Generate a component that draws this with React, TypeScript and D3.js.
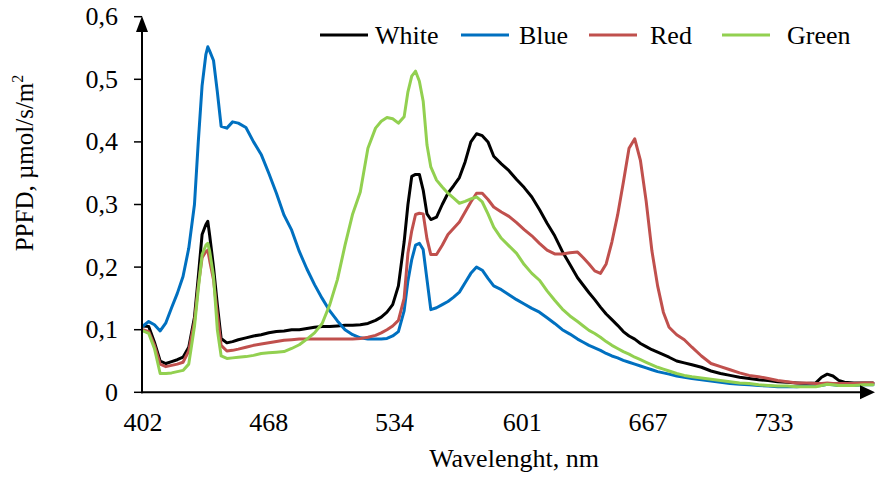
import React from 'react';
import * as d3 from 'd3';

const wavelengths = [
  402, 405, 408, 411, 414, 417, 420, 423, 426, 429,
  431, 433, 435, 436, 437, 439, 441, 443,
  446, 449, 452, 456, 460, 464, 468, 472, 476, 480,
  484, 488, 492, 496, 500, 504, 508, 512, 516, 520,
  524, 527, 530, 533, 536, 539, 541, 543, 545, 547,
  549, 551, 553, 556, 559, 562, 565, 568, 571, 574,
  577, 580, 583, 586, 590, 594, 598, 602, 606, 610,
  614, 618, 622, 626, 630, 633, 636, 639, 642, 645,
  648, 651, 654, 657, 660, 663, 666, 669, 672, 675,
  678, 682, 686, 690, 695, 700, 705, 710, 715, 720,
  725, 730, 735, 740, 745, 750, 755, 758, 761, 764,
  767, 770, 775, 780, 785,
];

const white = [
  0.106, 0.105, 0.08, 0.05, 0.046, 0.049, 0.052, 0.056, 0.072, 0.12,
  0.184, 0.252, 0.268, 0.273, 0.25, 0.2, 0.14, 0.086,
  0.079, 0.081, 0.084, 0.087, 0.09, 0.092, 0.095, 0.097, 0.098, 0.1,
  0.1, 0.102, 0.104, 0.105, 0.105, 0.106, 0.107, 0.107, 0.108, 0.11,
  0.115, 0.12, 0.128, 0.14, 0.17, 0.24, 0.3, 0.345, 0.348, 0.348,
  0.323, 0.285, 0.276, 0.28, 0.3, 0.318, 0.33, 0.343, 0.368, 0.4,
  0.413, 0.41, 0.4, 0.377, 0.365, 0.354, 0.34, 0.327, 0.312, 0.292,
  0.27, 0.25, 0.225, 0.204, 0.183, 0.171, 0.159, 0.148, 0.136, 0.125,
  0.116, 0.107, 0.097, 0.09, 0.085, 0.078, 0.073, 0.068, 0.064, 0.06,
  0.056, 0.05, 0.047, 0.044, 0.04, 0.034, 0.03, 0.027, 0.024, 0.022,
  0.02, 0.019, 0.017, 0.016, 0.015, 0.014, 0.015, 0.024, 0.029, 0.026,
  0.019, 0.016, 0.015, 0.015, 0.015,
];

const blue = [
  0.106, 0.113, 0.108, 0.098, 0.111, 0.135, 0.158, 0.185, 0.23, 0.3,
  0.4, 0.49, 0.54, 0.552, 0.545, 0.53, 0.48, 0.425,
  0.422, 0.432, 0.43, 0.423, 0.4, 0.38, 0.35, 0.318, 0.283, 0.259,
  0.225, 0.197, 0.172, 0.15, 0.13, 0.114, 0.1, 0.092, 0.087, 0.085,
  0.085, 0.085, 0.086, 0.09, 0.097, 0.13, 0.178, 0.212, 0.235, 0.238,
  0.228, 0.18, 0.132, 0.135, 0.14, 0.145, 0.152, 0.16, 0.175, 0.19,
  0.2, 0.195, 0.182, 0.17, 0.164, 0.156, 0.148, 0.141, 0.134, 0.128,
  0.119, 0.11, 0.1, 0.093, 0.085, 0.08, 0.075, 0.071, 0.067, 0.062,
  0.058, 0.055, 0.051, 0.048, 0.045, 0.042, 0.039, 0.036, 0.033, 0.031,
  0.029, 0.026, 0.024, 0.022, 0.02, 0.018, 0.016, 0.014, 0.013, 0.012,
  0.011, 0.01, 0.009, 0.009, 0.009, 0.01, 0.01, 0.011, 0.013, 0.012,
  0.011, 0.011, 0.011, 0.012, 0.012,
];

const red = [
  0.1, 0.097, 0.075, 0.045, 0.041, 0.043, 0.045, 0.048, 0.066, 0.113,
  0.17, 0.215, 0.225, 0.227, 0.21, 0.18, 0.125, 0.075,
  0.066, 0.067, 0.069, 0.072, 0.075, 0.077, 0.079, 0.081, 0.083, 0.084,
  0.085, 0.085, 0.085, 0.085, 0.085, 0.085, 0.085, 0.085, 0.086, 0.088,
  0.091, 0.095, 0.1, 0.106, 0.115, 0.15, 0.222, 0.258, 0.284, 0.286,
  0.285, 0.245, 0.22, 0.22, 0.235, 0.252, 0.262, 0.272, 0.288, 0.304,
  0.318, 0.318, 0.308, 0.296, 0.288, 0.281, 0.271, 0.26, 0.25, 0.238,
  0.227, 0.221, 0.221, 0.223, 0.224, 0.215, 0.205, 0.194, 0.19, 0.205,
  0.24, 0.283, 0.335, 0.39, 0.405, 0.37, 0.305, 0.226, 0.17, 0.128,
  0.104, 0.092, 0.084, 0.072, 0.058, 0.046, 0.041, 0.036, 0.031, 0.027,
  0.025, 0.022, 0.019, 0.017, 0.015, 0.015, 0.014, 0.014, 0.015, 0.014,
  0.014, 0.014, 0.014, 0.015, 0.015,
];

const green = [
  0.098, 0.094, 0.07, 0.03, 0.03, 0.031, 0.033, 0.035, 0.045, 0.105,
  0.165, 0.22, 0.235, 0.238, 0.225, 0.185, 0.1, 0.058,
  0.054, 0.055, 0.056, 0.057, 0.059, 0.062, 0.063, 0.064, 0.065, 0.07,
  0.076, 0.085, 0.095, 0.11, 0.14, 0.18, 0.235, 0.285, 0.32, 0.39,
  0.422, 0.433, 0.439, 0.437, 0.43, 0.44, 0.48, 0.505, 0.513, 0.497,
  0.465, 0.395, 0.36, 0.339, 0.328, 0.318, 0.31, 0.302, 0.305, 0.309,
  0.312, 0.304, 0.285, 0.264, 0.246, 0.234, 0.222, 0.204, 0.19, 0.179,
  0.162, 0.147, 0.133, 0.122, 0.113, 0.106, 0.099, 0.094, 0.088, 0.081,
  0.075, 0.07, 0.065, 0.061, 0.056, 0.052, 0.048, 0.044, 0.04, 0.037,
  0.034, 0.03, 0.027, 0.025, 0.023, 0.021, 0.019, 0.017, 0.015, 0.014,
  0.012, 0.011, 0.01, 0.01, 0.009, 0.009, 0.009, 0.011, 0.013, 0.012,
  0.011, 0.011, 0.011, 0.012, 0.012,
];

const seriesNames = ['White', 'Blue', 'Red', 'Green'];
const seriesValues = [white, blue, red, green];
const seriesColors = ['#000000', '#0070C0', '#C0504D', '#92D050'];

const yTicks = [0, 0.1, 0.2, 0.3, 0.4, 0.5, 0.6];
const yTickLabels = ['0', '0,1', '0,2', '0,3', '0,4', '0,5', '0,6'];
const xTicks = [402, 468, 534, 601, 667, 733];

const FONT = "'Liberation Serif', 'Times New Roman', serif";

export default function App() {
  const W = 875;
  const H = 477;
  const axisX = 142;
  const axisY = 392.3;
  const x = d3.scaleLinear().domain([402, 785]).range([143, 873]);
  const y = d3.scaleLinear().domain([0, 0.6]).range([axisY, 16.7]);

  const line = d3
    .line<number>()
    .x((_, i) => x(wavelengths[i]))
    .y((d) => y(d));

  const legendLineX = [320, 461, 589, 722];
  const legendTextX = [375, 519, 650, 787];

  return (
    <svg
      width={W}
      height={H}
      viewBox={`0 0 ${W} ${H}`}
      style={{ position: 'absolute', left: 0, top: 0, background: '#fff' }}
      fontFamily={FONT}
    >
      <rect x={0} y={0} width={W} height={H} fill="#fff" />
      {seriesValues.map((vals, si) => (
        <path
          key={seriesNames[si]}
          d={line(vals) || ''}
          fill="none"
          stroke={seriesColors[si]}
          strokeWidth={3}
          strokeLinejoin="round"
          strokeLinecap="round"
        />
      ))}
      <line x1={axisX} y1={axisY + 1} x2={axisX} y2={28} stroke="#000" strokeWidth={2} />
      <polygon points={`${axisX},16 ${axisX - 6},32 ${axisX + 6},32`} fill="#000" />
      {yTicks.map((t, i) => (
        <g key={t}>
          <line x1={axisX - 8} x2={axisX} y1={y(t)} y2={y(t)} stroke="#000" strokeWidth={1.5} />
          <text x={118} y={y(t) + 8.5} textAnchor="end" fontSize={26} fill="#000">
            {yTickLabels[i]}
          </text>
        </g>
      ))}
      <line x1={axisX - 1} y1={axisY} x2={862} y2={axisY} stroke="#000" strokeWidth={2} />
      <polygon points={`875,${axisY} 860,${axisY - 7} 860,${axisY + 7}`} fill="#000" />
      {xTicks.map((t) => (
        <text key={t} x={x(t)} y={431} textAnchor="middle" fontSize={26} fill="#000">
          {t}
        </text>
      ))}
      <text x={514} y={467} textAnchor="middle" fontSize={26} fill="#000">
        Wavelenght, nm
      </text>
      <text transform="translate(33,163) rotate(-90)" textAnchor="middle" fontSize={25} fill="#000">
        PPFD, µmol/s/m<tspan dy={-10} fontSize={16}>2</tspan>
      </text>
      {seriesNames.map((n, i) => (
        <g key={n}>
          <line x1={legendLineX[i]} x2={legendLineX[i] + 48} y1={35} y2={35} stroke={seriesColors[i]} strokeWidth={3} />
          <text x={legendTextX[i]} y={44} fontSize={26} fill="#000">
            {n}
          </text>
        </g>
      ))}
    </svg>
  );
}
